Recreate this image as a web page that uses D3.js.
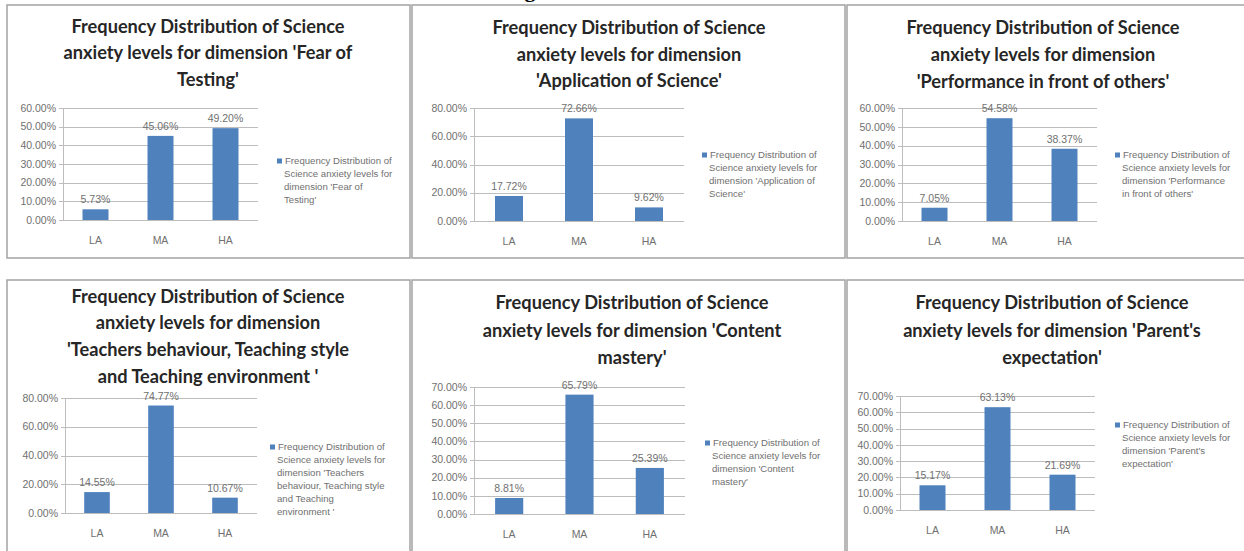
<!DOCTYPE html>
<html lang="en">
<head>
<meta charset="UTF-8">
<title>Frequency Distribution of Science anxiety levels</title>
<style>
    body { margin: 0; background: #fff; }
    .title { font-family: Lato, "Open Sans", sans-serif; font-weight: bold; font-size: 18.2px; fill: #262626; }
    .tick-label { font-family: "Liberation Sans", Arial, sans-serif; font-size: 10.5px; fill: #707070; }
    .legend-text { font-family: "Liberation Sans", Arial, sans-serif; font-size: 9.6px; fill: #707070; }
    .grid { stroke: #bdbdbd; stroke-width: 1; }
    .frame { fill: none; stroke: #a3a3a3; stroke-width: 1.5; }
</style>
</head>
<body>
<div id="chart"></div>
<script src="https://cdnjs.cloudflare.com/ajax/libs/d3/7.8.5/d3.min.js"></script>
<script>
    // categories shared by all six charts
    const categories = ["LA", "MA", "HA"];

    // values per dimension (percent)
    const fearOfTesting = [5.73, 45.06, 49.20];
    const applicationOfScience = [17.72, 72.66, 9.62];
    const performanceInFront = [7.05, 54.58, 38.37];
    const teachersBehaviour = [14.55, 74.77, 10.67];
    const contentMastery = [8.81, 65.79, 25.39];
    const parentsExpectation = [15.17, 63.13, 21.69];

    // y axis maximum and step for each chart
    const axisMax = [60, 80, 60, 80, 70, 70];
    const axisStep = [10, 20, 10, 20, 10, 10];

    const titles = [
        ["Frequency Distribution of Science", "anxiety levels for dimension 'Fear of", "Testing'"],
        ["Frequency Distribution of Science", "anxiety levels for dimension", "'Application of Science'"],
        ["Frequency Distribution of Science", "anxiety levels for dimension", "'Performance in front of others'"],
        ["Frequency Distribution of Science", "anxiety levels for dimension", "'Teachers behaviour, Teaching style", "and Teaching environment '"],
        ["Frequency Distribution of Science", "anxiety levels for dimension 'Content", "mastery'"],
        ["Frequency Distribution of Science", "anxiety levels for dimension 'Parent's", "expectation'"]
    ];

    const legends = [
        ["Frequency Distribution of", "Science anxiety levels for", "dimension 'Fear of", "Testing'"],
        ["Frequency Distribution of", "Science anxiety levels for", "dimension 'Application of", "Science'"],
        ["Frequency Distribution of", "Science anxiety levels for", "dimension 'Performance", "in front of others'"],
        ["Frequency Distribution of", "Science anxiety levels for", "dimension 'Teachers", "behaviour, Teaching style", "and Teaching", "environment '"],
        ["Frequency Distribution of", "Science anxiety levels for", "dimension 'Content", "mastery'"],
        ["Frequency Distribution of", "Science anxiety levels for", "dimension 'Parent's", "expectation'"]
    ];

    const series = [fearOfTesting, applicationOfScience, performanceInFront,
        teachersBehaviour, contentMastery, parentsExpectation];

    // where each chart sits on the page
    const layout = [
        { frame: [7, 5, 403, 253], cx: 208, ty: [27, 53, 80], plot: [63, 258, 108, 220], leg: [277, 161] },
        { frame: [412, 5, 433, 253], cx: 629, ty: [28, 55, 81], plot: [474, 684, 108, 221], leg: [702, 155] },
        { frame: [847, 5, 410, 253], cx: 1043, ty: [28, 55, 82], plot: [902, 1097, 108, 221], leg: [1115, 155] },
        { frame: [7, 280, 403, 290], cx: 208, ty: [297, 323, 350, 377], plot: [65, 257, 398, 513], leg: [270, 447] },
        { frame: [412, 280, 433, 290], cx: 632, ty: [303, 331, 358], plot: [474, 685, 387, 514], leg: [705, 443] },
        { frame: [847, 280, 410, 290], cx: 1052, ty: [303, 331, 358], plot: [900, 1095, 396, 510], leg: [1115, 425] }
    ];

    const width = 1244, height = 551;
    const barColor = "#4f81bd";
    const fmt = d => d.toFixed(2) + "%";

    const svg = d3.select("#chart").append("svg")
        .attr("width", width)
        .attr("height", height);

    // cut-off heading above the charts
    svg.append("text")
        .attr("x", 530)
        .attr("y", -3)
        .attr("text-anchor", "middle")
        .style("font-family", "'Liberation Serif', serif")
        .style("font-weight", "bold")
        .style("font-size", "22px")
        .text("g");

    series.forEach((values, i) => {
        const L = layout[i];
        const g = svg.append("g");

        g.append("rect")
            .attr("class", "frame")
            .attr("x", L.frame[0])
            .attr("y", L.frame[1])
            .attr("width", L.frame[2])
            .attr("height", L.frame[3]);

        g.selectAll(".title")
            .data(titles[i])
            .enter().append("text")
            .attr("class", "title")
            .attr("x", L.cx)
            .attr("y", (d, j) => L.ty[j])
            .attr("dy", "0.35em")
            .attr("text-anchor", "middle")
            .text(d => d);

        const x = d3.scaleBand()
            .domain(categories)
            .range([L.plot[0], L.plot[1]])
            .paddingInner(0.6)
            .paddingOuter(0.3);

        const y = d3.scaleLinear()
            .domain([0, axisMax[i]])
            .range([L.plot[3], L.plot[2]]);

        const ticks = d3.range(0, axisMax[i] + 0.001, axisStep[i]);

        g.selectAll(".grid")
            .data(ticks)
            .enter().append("line")
            .attr("class", "grid")
            .attr("x1", L.plot[0] - 4)
            .attr("x2", L.plot[1])
            .attr("y1", d => Math.round(y(d)) + 0.5)
            .attr("y2", d => Math.round(y(d)) + 0.5);

        // y axis line
        g.append("line")
            .attr("class", "grid")
            .attr("x1", L.plot[0] + 0.5)
            .attr("x2", L.plot[0] + 0.5)
            .attr("y1", L.plot[2])
            .attr("y2", L.plot[3]);

        g.selectAll(".ylab")
            .data(ticks)
            .enter().append("text")
            .attr("class", "tick-label")
            .attr("x", L.plot[0] - 7)
            .attr("y", d => y(d))
            .attr("dy", "0.35em")
            .attr("text-anchor", "end")
            .text(fmt);

        g.selectAll(".bar")
            .data(values)
            .enter().append("rect")
            .attr("fill", barColor)
            .attr("x", (d, j) => x(categories[j]))
            .attr("width", x.bandwidth())
            .attr("y", d => y(d))
            .attr("height", d => y(0) - y(d));

        g.selectAll(".vlab")
            .data(values)
            .enter().append("text")
            .attr("class", "tick-label")
            .attr("x", (d, j) => x(categories[j]) + x.bandwidth() / 2)
            .attr("y", d => y(d) - 6)
            .attr("text-anchor", "middle")
            .text(fmt);

        g.selectAll(".xlab")
            .data(categories)
            .enter().append("text")
            .attr("class", "tick-label")
            .attr("x", d => x(d) + x.bandwidth() / 2)
            .attr("y", L.plot[3] + 20)
            .attr("dy", "0.35em")
            .attr("text-anchor", "middle")
            .text(d => d);

        // legend
        g.append("rect")
            .attr("fill", barColor)
            .attr("x", L.leg[0])
            .attr("y", L.leg[1] - 2.5)
            .attr("width", 5)
            .attr("height", 5);

        g.selectAll(".legend-text")
            .data(legends[i])
            .enter().append("text")
            .attr("class", "legend-text")
            .attr("x", (d, j) => L.leg[0] + (j === 0 ? 8 : 7))
            .attr("y", (d, j) => L.leg[1] + j * 13)
            .attr("dy", "0.35em")
            .text(d => d);
    });
</script>
</body>
</html>
